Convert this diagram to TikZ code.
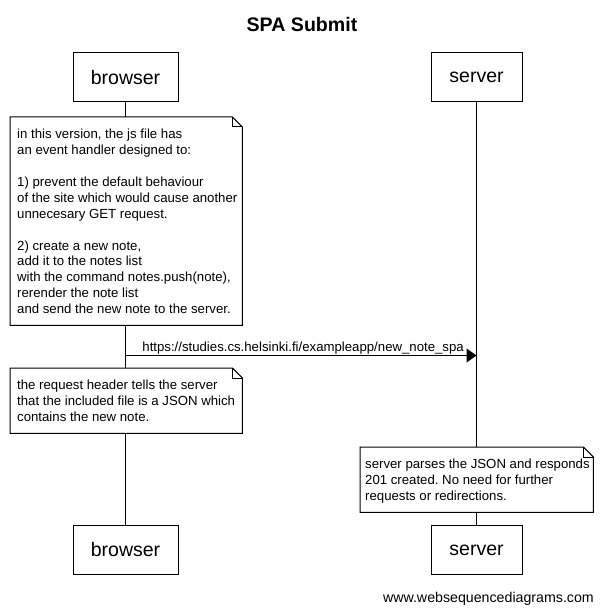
\documentclass[tikz,border=0pt]{standalone}
\usepackage{fontspec}
\setmainfont{Liberation Sans}
\usetikzlibrary{arrows.meta}
\frenchspacing
\tikzset{
  part/.style={draw, line width=1pt, fill=white, minimum height=49pt, inner sep=0pt, font=\fontsize{19.5}{22}\selectfont},
  notebox/.style={minimum width=#1, inner sep=0pt, anchor=north west},
  noteline/.style={draw, line width=1pt, fill=white},
  notetext/.style={anchor=north west, align=left, inner sep=0pt, font=\fontsize{13.2}{15.9}\selectfont},
  msg/.style={line width=1pt, -{Triangle[length=10pt,width=14pt]}},
  lifeline/.style={line width=1pt},
}
\begin{document}
\begin{tikzpicture}[x=1pt, y=-1pt]
\useasboundingbox[fill=white] (0,0) rectangle (603,609);
% title
\node[anchor=base, font=\bfseries\fontsize{19.6}{22}\selectfont] (title) at (302,31.7) {SPA Submit};
% participants
\node[part, minimum width=105pt] (bt) at (125.5,77.5) {browser};
\node[part, minimum width=91pt] (st) at (476.5,77.5) {server};
\node[part, minimum width=105pt] (bb) at (125.5,550) {browser};
\node[part, minimum width=91pt] (sb) at (476.5,550) {server};
% lifelines
\draw[lifeline] (bt.south) -- (bb.north);
\draw[lifeline] (st.south) -- (sb.north);
% note 1
\node[notebox=232pt, minimum height=208pt] (n1) at (10,117) {};
\draw[noteline] (n1.north west) -- ([xshift=-10pt]n1.north east) -- ([yshift=-10pt]n1.north east) -- (n1.south east) -- (n1.south west) -- cycle;
\draw[line width=1pt] ([xshift=-10pt]n1.north east) |- ([yshift=-10pt]n1.north east);
\node[notetext] (n1t) at (17,127.4) {\strut in this version, the js file has\\
an event handler designed to:\\
~\\
1) prevent the default behaviour\\
of the site which would cause another\\
unnecesary GET request.\\
~\\
2) create a new note,\\
add it to the notes list\\
with the command notes.push(note),\\
rerender the note list\\
and send the new note to the server.};
% message
\coordinate (y1) at (0,355.5);
\coordinate (m1s) at (bt |- y1);
\coordinate (m1e) at (st |- y1);
\draw[msg] (m1s) -- (m1e);
\node[anchor=base east, inner sep=0pt, font=\fontsize{13.2}{15.9}\selectfont] (m1l) at (464,351.5) {https://studies.cs.helsinki.fi/exampleapp/new\_note\_spa};
% note 2
\node[notebox=232pt, minimum height=65pt] (n2) at (10,368) {};
\draw[noteline] (n2.north west) -- ([xshift=-10pt]n2.north east) -- ([yshift=-10pt]n2.north east) -- (n2.south east) -- (n2.south west) -- cycle;
\draw[line width=1pt] ([xshift=-10pt]n2.north east) |- ([yshift=-10pt]n2.north east);
\node[notetext] (n2t) at (17,378.4) {\strut the request header tells the server\\
that the included file is a JSON which\\
contains the new note.};
% note 3
\node[notebox=233pt, minimum height=65pt] (n3) at (360,447) {};
\draw[noteline] (n3.north west) -- ([xshift=-10pt]n3.north east) -- ([yshift=-10pt]n3.north east) -- (n3.south east) -- (n3.south west) -- cycle;
\draw[line width=1pt] ([xshift=-10pt]n3.north east) |- ([yshift=-10pt]n3.north east);
\node[notetext] (n3t) at (365,457.4) {\strut server parses the JSON and responds\\
201 created. No need for further\\
requests or redirections.};
% watermark
\node[anchor=base east, inner sep=0pt, font=\fontsize{14.2}{16}\selectfont] (wm) at (594,602) {www.websequencediagrams.com};
\end{tikzpicture}
\end{document}
